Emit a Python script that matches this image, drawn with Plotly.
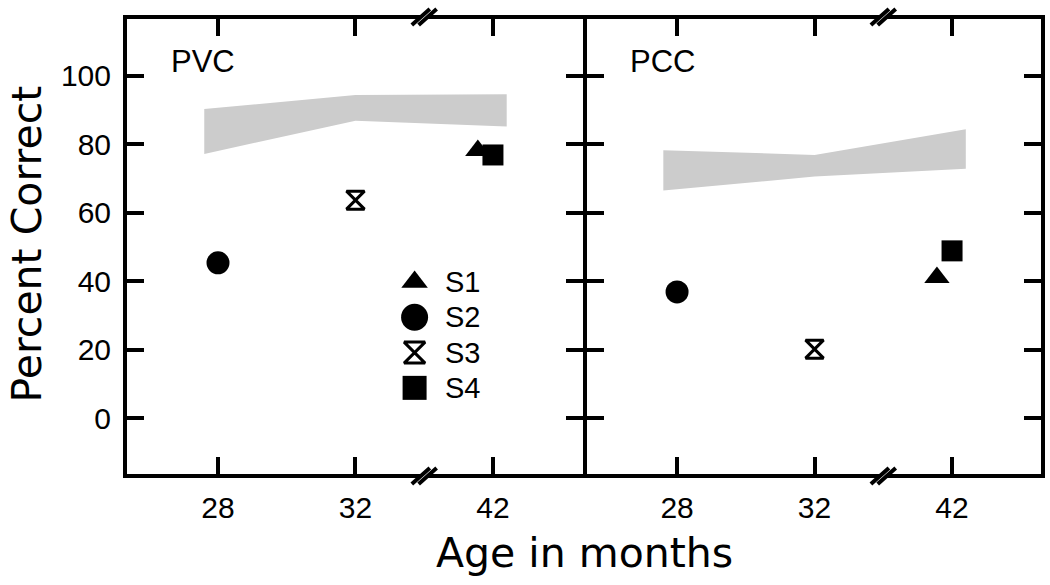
import plotly.graph_objects as go

# ---------------- data ----------------
age_labels = ["28", "32", "42"]
age_pos = [0, 1, 2]

band_x = [-0.1, 1, 2.1]
pvc_band_upper = [90.2, 94.3, 94.5]
pvc_band_lower = [77.1, 86.8, 85.1]
pcc_band_upper = [78.2, 76.8, 84.3]
pcc_band_lower = [66.4, 70.5, 72.8]

subjects = ["S1", "S2", "S3", "S4"]
subject_age_idx = [2, 0, 1, 2]
pvc_scores = [78.1, 45.3, 63.6, 76.8]
pcc_scores = [41.0, 36.8, 20.1, 48.8]

y_ticks = [0, 20, 40, 60, 80, 100]

# ---------------- style ----------------
symbols = ["triangle-up", "circle", "hourglass-open", "square"]
plot_sizes = [22, 23, 18, 21]
legend_sizes = [23, 27, 21, 24]
jitter = [-0.11, 0, 0, 0]
TICK_FONT = dict(family="Liberation Sans", size=30, color="black")

fig = go.Figure()


def add_panel(xa, ya, upper, lower, scores):
    fig.add_trace(go.Scatter(
        x=band_x + band_x[::-1], y=upper + lower[::-1],
        fill="toself", fillcolor="#cccccc", mode="lines",
        line=dict(width=0, color="#cccccc"), xaxis=xa, yaxis=ya,
        showlegend=False, hoverinfo="skip"))
    for i, s in enumerate(subjects):
        open_sym = symbols[i].endswith("open")
        fig.add_trace(go.Scatter(
            x=[age_pos[subject_age_idx[i]] + jitter[i]], y=[scores[i]],
            mode="markers", xaxis=xa, yaxis=ya, showlegend=False, name=s,
            marker=dict(symbol=symbols[i], size=plot_sizes[i], color="black",
                        line=dict(color="black", width=3 if open_sym else 0))))


add_panel("x", "y", pvc_band_upper, pvc_band_lower, pvc_scores)
add_panel("x2", "y2", pcc_band_upper, pcc_band_lower, pcc_scores)

# manual legend inside the left panel
leg_x = 1.43
leg_y0 = 39.7
leg_dy = 10.3
for i, s in enumerate(subjects):
    open_sym = symbols[i].endswith("open")
    yy = leg_y0 - i * leg_dy
    fig.add_trace(go.Scatter(
        x=[leg_x], y=[yy], mode="markers", xaxis="x", yaxis="y",
        showlegend=False, hoverinfo="skip",
        marker=dict(symbol=symbols[i], size=legend_sizes[i], color="black",
                    line=dict(color="black", width=3 if open_sym else 0))))
    fig.add_annotation(x=leg_x + 0.21, y=yy, xref="x", yref="y", text=s,
                       showarrow=False, xanchor="left", yanchor="middle",
                       font=dict(family="Liberation Sans", size=29, color="black"))

# panel labels
for xr, lab in [("x", "PVC"), ("x2", "PCC")]:
    fig.add_annotation(x=-0.36, y=104.2, xref=xr, yref="y", text=lab,
                       showarrow=False, xanchor="left", yanchor="middle",
                       font=dict(family="Liberation Sans", size=31, color="black"))

# axis titles
fig.add_annotation(x=0.5, y=-0.173, xref="paper", yref="paper", text="Age in months",
                   showarrow=False, xanchor="center", yanchor="middle",
                   font=dict(family="DejaVu Sans", size=41, color="black"))
fig.add_annotation(x=-0.109, y=0.505, xref="paper", yref="paper", text="Percent Correct",
                   showarrow=False, textangle=-90, xanchor="center", yanchor="middle",
                   font=dict(family="DejaVu Sans", size=41, color="black"))

# axis break marks (//) between 32 and 42 on top and bottom axes
for xr, yr in [("x", "y domain"), ("x2", "y2 domain")]:
    for yv, dy in [(0, -2), (1, 2)]:
        fig.add_shape(type="path", xref=xr, yref=yr, xsizemode="pixel", ysizemode="pixel",
                      xanchor=1.5, yanchor=yv,
                      path=f"M-12.5,{dy-8} L-5.5,{dy-8} L12.5,{dy+8} L5.5,{dy+8} Z",
                      fillcolor="white", line=dict(width=0), layer="above")
        for c in (-3.4, 3.4):
            fig.add_shape(type="line", xref=xr, yref=yr, xsizemode="pixel", ysizemode="pixel",
                          xanchor=1.5, yanchor=yv, x0=c - 9, y0=dy - 8, x1=c + 9, y1=dy + 8,
                          line=dict(color="black", width=4), layer="above")

axis_common = dict(showgrid=False, zeroline=False, showline=True, linecolor="black",
                   linewidth=4, ticks="inside", ticklen=17, tickwidth=3.5,
                   tickcolor="black", mirror="ticks", tickfont=TICK_FONT,
                   automargin=False)

Y_RANGE = [-16.35, 116.5]

fig.update_layout(
    width=1050, height=585,
    margin=dict(l=127, r=9, t=19, b=111),
    paper_bgcolor="white", plot_bgcolor="white",
    showlegend=False,
    xaxis=dict(domain=[0, 0.4989], range=[-0.662, 2.655], tickvals=age_pos,
               ticktext=age_labels, anchor="y", ticklabelstandoff=4, **axis_common),
    xaxis2=dict(domain=[0.5033, 1], range=[-0.655, 2.647], tickvals=age_pos,
                ticktext=age_labels, anchor="y2", ticklabelstandoff=4, **axis_common),
    yaxis=dict(domain=[0, 1], range=Y_RANGE, tickvals=y_ticks, anchor="x",
               ticklabelstandoff=6, **axis_common),
    yaxis2=dict(domain=[0, 1], range=Y_RANGE, tickvals=y_ticks, anchor="x2",
                matches="y", showticklabels=False, **axis_common),
)

fig.write_html("out.html", config={"displayModeBar": False},
               post_script="document.body.style.margin='0';document.body.style.padding='0';")
